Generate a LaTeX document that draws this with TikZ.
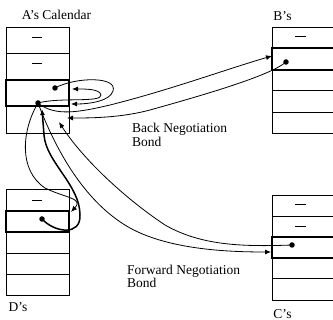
\documentclass[tikz,border=0pt]{standalone}
\usepackage{fontspec}
\setmainfont{Liberation Serif}
\usetikzlibrary{arrows.meta}
\begin{document}
\begin{tikzpicture}[x=1pt,y=-1pt,
  cell/.style={draw,line width=0.8pt},
  slot/.style={draw,line width=2.2pt},
  dashmark/.style={line width=1pt},
  dotn/.style={circle,fill,inner sep=0pt,minimum size=5.5pt},
  link/.style={line width=0.8pt,-{Latex[length=6pt,width=5pt]}},
  heavy/.style={line width=1.5pt,-{Latex[length=6pt,width=5pt]}},
  lbl/.style={font=\fontsize{13.5}{14}\selectfont,inner sep=0pt}
]
\useasboundingbox (0,0) rectangle (333,320);
% A's calendar
\draw[cell] (6,27) rectangle (69,133);
\foreach \y in {53,80,106} \draw[cell] (6,\y) -- (69,\y);
\draw[slot] (6,80) rectangle (69,106);
\draw[dashmark] (32,38) -- (42,38);
\draw[dashmark] (32,64) -- (42,64);
% B's
\draw[cell] (272,27) rectangle (340,133);
\foreach \y in {48,70,90,112} \draw[cell] (272,\y) -- (340,\y);
\draw[slot] (272,48) rectangle (340,70);
\draw[dashmark] (295,37) -- (306,37);
% D's
\draw[cell] (6,189) rectangle (69,295);
\foreach \y in {211,232,253,274} \draw[cell] (6,\y) -- (69,\y);
\draw[slot] (6,211) rectangle (69,232);
\draw[dashmark] (32,201) -- (42,201);
% C's
\draw[cell] (272,195) rectangle (340,300);
\foreach \y in {216,237,258,278} \draw[cell] (272,\y) -- (340,\y);
\draw[slot] (272,237) rectangle (340,258);
\draw[dashmark] (295,205) -- (306,205);
\draw[dashmark] (295,227) -- (306,227);
% labels
\node[lbl] (ta) at (56.5,15) {A's Calendar};
\node[lbl] (tb) at (282.5,16) {B's};
\node[lbl] (td) at (18,307) {D's};
\node[lbl] (tc) at (282.5,314) {C's};
\node[lbl,anchor=west,align=left,font=\fontsize{13.5}{14}\selectfont] (lback) at (132,135) {Back Negotiation\\Bond};
\node[lbl,anchor=west,align=left,font=\fontsize{13.5}{11}\selectfont] (lfwd) at (127,276.5) {Forward Negotiation\\Bond};
% dots
\node[dotn] (a1) at (55,88) {};
\node[dotn] (a2) at (38,103) {};
\node[dotn] (b1) at (286,62) {};
\node[dotn] (d1) at (42,219) {};
\node[dotn] (c1) at (292,245) {};
% arrow end points
\coordinate (ea1) at (71,104);
\coordinate (ea2) at (72,89);
\coordinate (eab) at (67,118);
\coordinate (eac) at (59,122);
\coordinate (ead) at (42,109);
\coordinate (eb) at (272,56);
\coordinate (ec) at (271,252);
\coordinate (ed) at (71,212);
% loops within A
\draw[link] (a1.center) .. controls (75,77) and (118,76) .. (113,91) .. controls (110,101) and (90,104) .. (ea1);
\draw[link] (a2.center) .. controls (60,97) and (102,103) .. (101,95) .. controls (100,89) and (86,89) .. (ea2);
% back negotiation with B
\draw[link] (a2.center) .. controls (55,117) and (80,112) .. (110,105) .. controls (170,90) and (230,68) .. (eb);
\draw[link] (b1.center) .. controls (270,76) and (200,96) .. (150,110) .. controls (120,118) and (90,118) .. (eab);
% forward negotiation with C
\draw[link] (a2.center) .. controls (52,140) and (80,200) .. (130,228) .. controls (170,250) and (230,252) .. (ec);
\draw[link] (c1.center) .. controls (240,247) and (200,245) .. (165,225) .. controls (120,195) and (80,155) .. (eac);
% D
\draw[heavy] (d1.center) .. controls (55,233) and (81,236) .. (80,215) .. controls (80,185) and (46,162) .. (44,135) -- (ead);
\draw[link] (a2.center) .. controls (22,130) and (18,170) .. (45,188) .. controls (65,198) and (84,198) .. (ed);
\end{tikzpicture}
\end{document}
